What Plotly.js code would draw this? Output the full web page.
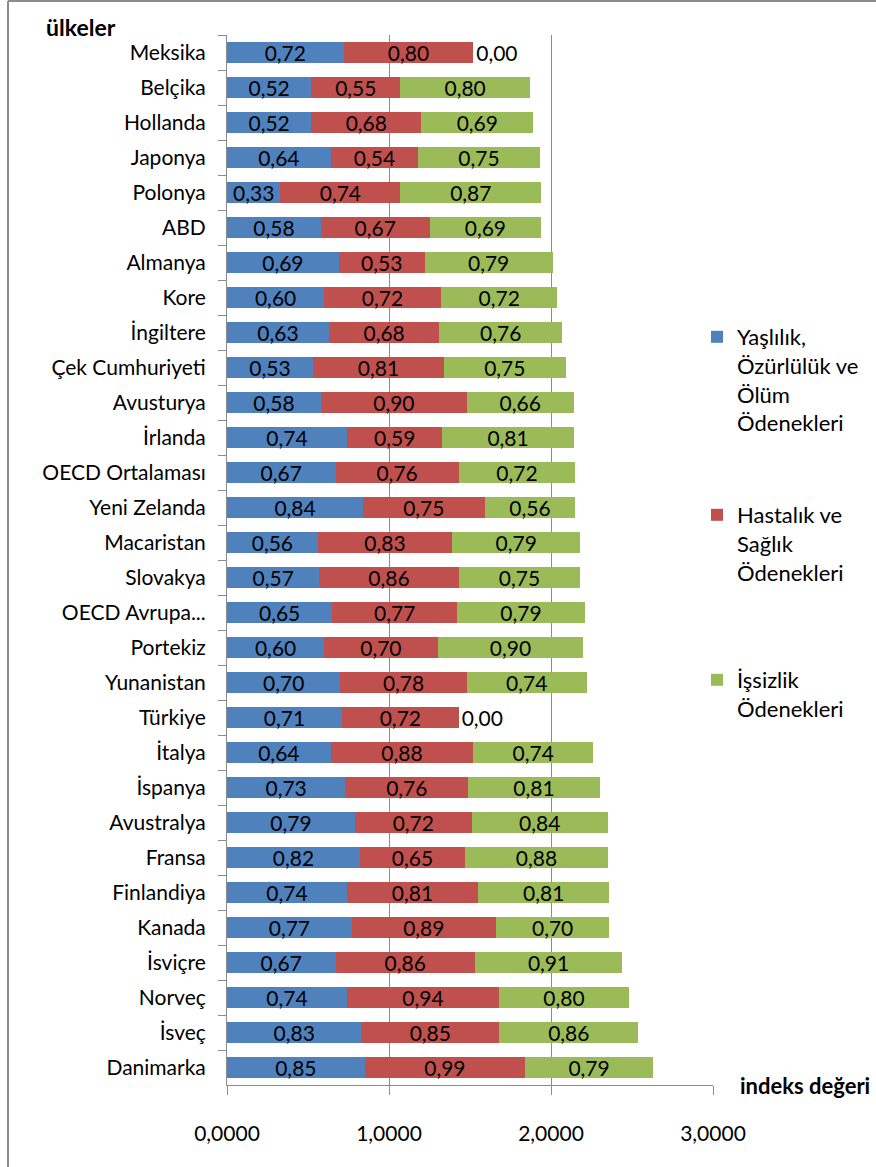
<!DOCTYPE html>
<html>
<head>
<meta charset="utf-8">
<script src="https://cdn.plot.ly/plotly-3.0.1.min.js"></script>
<style>html,body{margin:0;padding:0;background:#fff;}</style>
</head>
<body>
<div id="chart" style="width:876px;height:1167px;"></div>
<script>
const countries = ["Meksika","Belçika","Hollanda","Japonya","Polonya","ABD","Almanya","Kore","İngiltere","Çek Cumhuriyeti","Avusturya","İrlanda","OECD Ortalaması","Yeni Zelanda","Macaristan","Slovakya","OECD Avrupa...","Portekiz","Yunanistan","Türkiye","İtalya","İspanya","Avustralya","Fransa","Finlandiya","Kanada","İsviçre","Norveç","İsveç","Danimarka"];
const yaslilik = [0.72,0.52,0.52,0.64,0.33,0.58,0.69,0.60,0.63,0.53,0.58,0.74,0.67,0.84,0.56,0.57,0.65,0.60,0.70,0.71,0.64,0.73,0.79,0.82,0.74,0.77,0.67,0.74,0.83,0.85];
const hastalik = [0.80,0.55,0.68,0.54,0.74,0.67,0.53,0.72,0.68,0.81,0.90,0.59,0.76,0.75,0.83,0.86,0.77,0.70,0.78,0.72,0.88,0.76,0.72,0.65,0.81,0.89,0.86,0.94,0.85,0.99];
const issizlik = [0.00,0.80,0.69,0.75,0.87,0.69,0.79,0.72,0.76,0.75,0.66,0.81,0.72,0.56,0.79,0.75,0.79,0.90,0.74,0.00,0.74,0.81,0.84,0.88,0.81,0.70,0.91,0.80,0.86,0.79];
const seriesNames = ["Yaşlılık,<br>Özürlülük ve<br>Ölüm<br>Ödenekleri","Hastalık ve<br>Sağlık<br>Ödenekleri","İşsizlik<br>Ödenekleri"];
const colors = ["#4F81BD","#C0504D","#9BBB59"];
const legendIds = ["legend","legend2","legend3"];

const fmt = v => v.toFixed(2).replace('.', ',');
const FONT = "Lato, 'Open Sans', sans-serif";

function mk(vals, i){
  return {
    type:'bar', orientation:'h', y:countries, x:vals, name:seriesNames[i],
    marker:{color:colors[i]}, legend:legendIds[i], showlegend:true,
    text: vals.map(fmt),
    textposition: vals.map(v => v===0 ? 'outside' : 'inside'),
    insidetextanchor:'middle', textangle:0, constraintext:'none',
    textfont:{family:FONT,size:21,color:'#000'},
    outsidetextfont:{family:FONT,size:21,color:'#000'},
    insidetextfont:{family:FONT,size:21,color:'#000'},
    cliponaxis:false, hoverinfo:'x+y+name'
  };
}
const data = [mk(yaslilik,0), mk(hastalik,1), mk(issizlik,2)];

const W=876,H=1167,L=227,R=713,T=35,B=1085;
const px = x => (x-L)/(R-L);
const py = y => (B-y)/(B-T);

function leg(topPx){
  return {x:px(697), y:py(topPx), xanchor:'left', yanchor:'top', valign:'top', visible:true,
    bgcolor:'rgba(0,0,0,0)', font:{family:FONT,size:22,color:'#000'}};
}

const layout = {
  width:W, height:H, barmode:'stack', bargap:0.42, showlegend:true,
  separators:', ',
  paper_bgcolor:'#fff', plot_bgcolor:'#fff',
  margin:{l:L, r:W-R, t:T, b:H-B, pad:0},
  font:{family:FONT, color:'#000'},
  xaxis:{range:[0,3], dtick:1, tick0:0, tickformat:'.4f', showgrid:true, gridcolor:'#8c8c8c', gridwidth:1,
    zeroline:false, showline:true, linecolor:'#8c8c8c', linewidth:1, ticks:'outside', ticklen:9, tickcolor:'#8c8c8c',
    tickfont:{family:FONT,size:21,color:'#000'}, ticklabelstandoff:21, fixedrange:true},
  yaxis:{type:'category', autorange:'reversed', tickson:'boundaries', ticks:'outside', ticklen:8, tickcolor:'#8c8c8c',
    showline:true, linecolor:'#8c8c8c', linewidth:1, showgrid:false, zeroline:false,
    tickfont:{family:FONT,size:21,color:'#000'}, ticklabelstandoff:16, fixedrange:true},
  legend: leg(316),
  legend2: leg(494),
  legend3: leg(659),
  annotations:[
    {text:'<b>ülkeler</b>', xref:'paper', yref:'paper', x:px(44), y:py(27), xanchor:'left', yanchor:'middle', showarrow:false,
      font:{family:FONT,size:23,color:'#000'}},
    {text:'<b>indeks değeri</b>', xref:'paper', yref:'paper', x:px(738), y:py(1085), xanchor:'left', yanchor:'middle', showarrow:false,
      font:{family:FONT,size:22,color:'#000'}}
  ],
  shapes:[
    {type:'line', xref:'paper', yref:'paper', x0:px(8), x1:px(876), y0:py(1), y1:py(1), line:{color:'#8c8c8c', width:2}},
    {type:'line', xref:'paper', yref:'paper', x0:px(8), x1:px(8), y0:py(1), y1:py(1167), line:{color:'#8c8c8c', width:2}}
  ]
};
Plotly.newPlot('chart', data, layout, {displayModeBar:false, staticPlot:true});
</script>
</body>
</html>
